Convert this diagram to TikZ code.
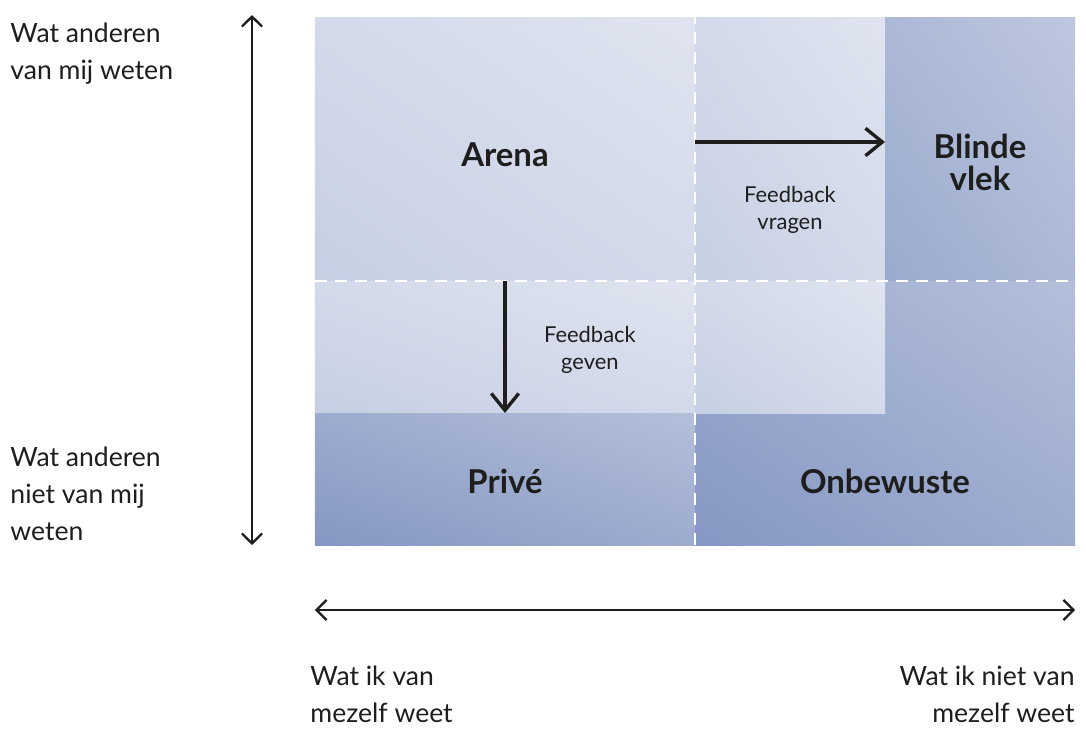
\documentclass[tikz,border=0pt]{standalone}
\usepackage{fontspec}
\setmainfont{Lato}
\usetikzlibrary{arrows.meta,shadings}

\definecolor{lightA}{HTML}{C6CFE3}
\definecolor{lightB}{HTML}{E0E4F0}
\definecolor{midA}{HTML}{9AAACE}
\definecolor{midB}{HTML}{BEC7DF}
\definecolor{darkA}{HTML}{8597C3}
\definecolor{darkB}{HTML}{B4BFDA}
\definecolor{ink}{HTML}{1E1E1E}
\colorlet{lightM}{lightA!50!lightB}
\colorlet{midM}{midA!50!midB}
\colorlet{darkM}{darkA!50!darkB}

\tikzset{
  lightcell/.style={lower left=lightA, upper right=lightB, upper left=lightM, lower right=lightM},
  midcell/.style={lower left=midA, upper right=midB, upper left=midM, lower right=midM},
  darkcell/.style={lower left=darkA, upper right=darkB, upper left=darkM, lower right=darkM},
  title/.style={font=\fontsize{15.6}{15}\selectfont\bfseries, text=ink, align=center},
  small/.style={font=\fontsize{10.4}{12.8}\selectfont, text=ink, align=center},
  side/.style={font=\fontsize{12.6}{17.5}\selectfont, text=ink, inner sep=0pt},
  axis/.style={draw=ink, line width=1.1pt, {Straight Barb[length=4.7pt,width=9.5pt]}-{Straight Barb[length=4.7pt,width=9.5pt]}},
  flow/.style={draw=ink, line width=1.6pt, -{Straight Barb[length=8pt,width=13pt]}},
  split/.style={draw=white, line width=0.9pt, dash pattern=on 5.7pt off 3.8pt}
}

\begin{document}
\begin{tikzpicture}[x=3.1667cm, y=2.2cm]
        \useasboundingbox (-1.6579,-1.4242) rectangle (4.0579,4.1288);

        % cells
        \shade[lightcell] (0,2) rectangle (2,4);
        \shade[lightcell] (2,2) rectangle (3,4);
        \shade[midcell] (3,2) rectangle (4,4);
        \shade[lightcell] (0,1) rectangle (2,2);
        \shade[darkcell] (2,0) rectangle (4,2);
        \shade[lightcell] (2,1) rectangle (3,2);
        \shade[darkcell] (0,0) rectangle (2,1);

        \draw[split] (2,0) -- (2,4);
        \draw[split] (0,2) -- (4,2);

        \node (arena) at (1,2.955) [title] {Arena};
        \node (blind) at (3.5,2.9) [title] {Blinde\\vlek};
        \node (prive) at (1,0.485) [title] {Privé};
        \node (onbewust) at (3,0.485) [title] {Onbewuste};
        \node (vragen) at (2.5,2.54) [small] {Feedback\\vragen};
        \node (geven) at (1.447,1.477) [small] {Feedback\\geven};

        \coordinate (askfrom) at (2,3.053);
        \coordinate (askto) at (3,3.053);
        \coordinate (givefrom) at (1,2);
        \coordinate (giveto) at (1,1);
        \draw[flow] (askfrom) -- (askto);
        \draw[flow] (givefrom) -- (giveto);

        \coordinate (up) at (-0.3316,4.015);
        \coordinate (down) at (-0.3316,0);
        \coordinate (left) at (0,-0.4924);
        \coordinate (right) at (4,-0.4924);
        \draw[axis] (up) -- (down);
        \draw[axis] (left) -- (right);

        \node (known) at (-1.605,3.96) [side, anchor=north west, align=left] {Wat anderen\\van mij weten};
        \node (unknown) at (-1.605,0.745) [side, anchor=north west, align=left] {Wat anderen\\niet van mij\\weten};
        \node (self) at (-0.026,-0.915) [side, anchor=north west, align=left] {Wat ik van\\mezelf weet};
        \node (notself) at (4,-0.915) [side, anchor=north east, align=right] {Wat ik niet van\\mezelf weet};
      \end{tikzpicture}
\end{document}
